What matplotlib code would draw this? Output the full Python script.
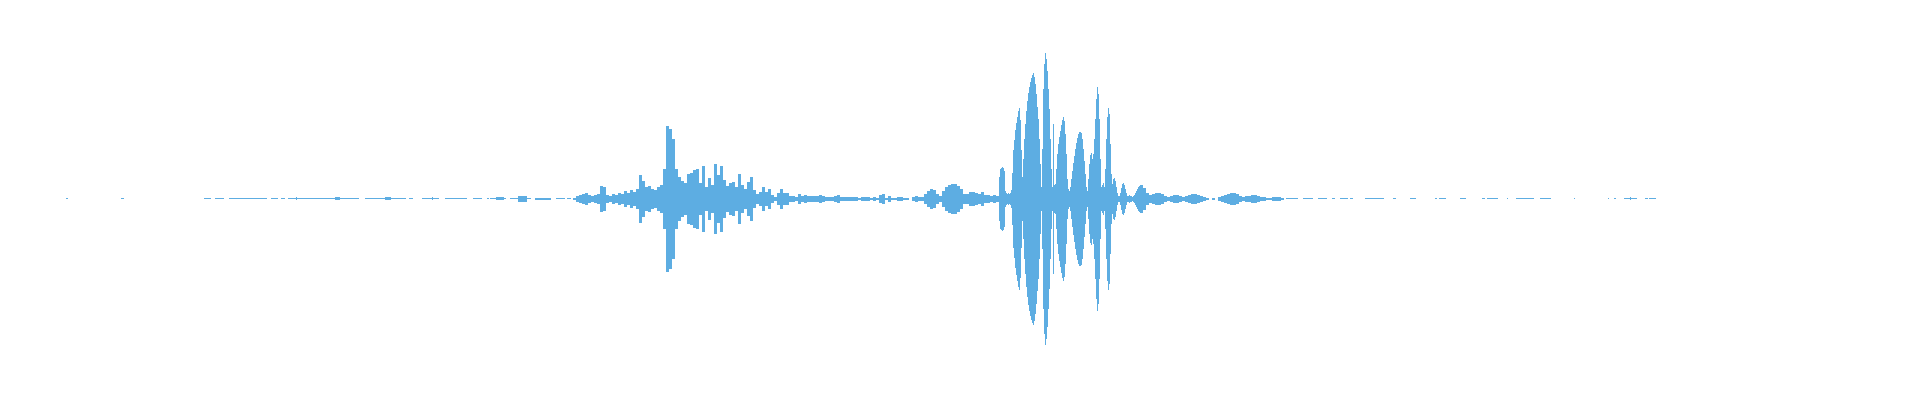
import numpy as np
import matplotlib
matplotlib.use("Agg")
import matplotlib.pyplot as plt

# waveform peak envelope, in pixels of amplitude around the centre line
# first speech part, one value per 3 columns starting at column 570
env_a_start = 570
env_a = [
    0, 1, 3, 4, 5, 6, 4, 3, 4, 5,
    13, 12, 4, 3, 5, 4, 6, 5, 8, 6,
    9, 7, 10, 24, 18, 12, 13, 10, 9, 12,
    14, 30, 73, 70, 60, 30, 22, 18, 16, 25,
    26, 29, 30, 16, 33, 12, 21, 14, 35, 24,
    33, 19, 13, 16, 17, 12, 25, 14, 10, 17,
    22, 9, 5, 7, 12, 7, 10, 4, 2, 6,
    10, 6, 6, 3, 3, 2, 5, 3, 4, 3,
    3, 3, 3, 4, 3, 2, 2, 2, 3, 4,
    2, 2, 2, 2, 2, 2, 1, 2, 2, 2,
    1, 2, 1, 4, 5, 1, 3, 1, 1, 2,
    2, 1, 1, 0, 2, 3, 2, 2, 5, 8,
    10, 9, 5, 3, 8, 12, 14, 15, 15, 13,
    10, 5, 5, 7, 7, 6, 5, 7, 4, 4,
    3, 4, 3,
]

# loud burst, one value per column starting at column 999
env_b_start = 999
env_b = [
    22, 30, 31, 32, 31, 28, 8, 6, 5, 6,
    5, 6, 9, 26, 49, 59, 69, 76, 82, 88,
    91, 79, 49, 22, 40, 60, 75, 88, 98, 106,
    112, 117, 121, 124, 126, 122, 115, 105, 92, 80,
    60, 35, 12, 50, 110, 135, 146, 140, 128, 110,
    90, 60, 30, 12, 75, 14, 15, 30, 45, 55,
    62, 68, 74, 79, 82, 78, 65, 45, 20, 10,
    8, 12, 20, 28, 36, 43, 50, 56, 61, 65,
    67, 67, 66, 60, 50, 38, 25, 12, 8, 20,
    35, 44, 46, 40, 45, 60, 80, 100, 112, 105,
    80, 40, 12, 14, 16, 12, 30, 60, 82, 91,
    85, 55, 25, 15, 20, 21, 18, 12, 6, 3,
    3, 6, 11, 15, 16, 14, 10, 6, 3, 3,
    4, 3, 3, 2, 3, 4, 6, 8, 10, 12,
    13,
]

# decay after the burst, one value per 3 columns starting at column 1140
env_c_start = 1140
env_c = [
    14, 11, 6, 4, 5, 6, 6, 5, 3, 2,
    3, 4, 4, 3, 2, 3, 4, 5, 5, 4,
    3, 2, 1, 0, 1, 0, 2, 3, 4, 5,
    6, 6, 5, 3, 2, 3, 3, 4, 4, 3,
    2, 2, 1, 1, 2, 2, 2, 1,
]

# near-silent stretches drawn as thin dashes: start column, end column, amplitude
quiet_start = [66, 121, 204, 215, 229, 271, 281, 288, 296, 335, 365, 385, 409, 422, 432,
               445, 473, 487, 490, 496, 510, 518, 535, 556, 567,
               1286, 1303, 1318, 1332, 1340, 1350, 1365, 1393, 1410, 1435, 1439, 1460,
               1482, 1487, 1507, 1516, 1540, 1574, 1608, 1614, 1624, 1630, 1645, 1649]
quiet_end = [68, 124, 211, 224, 267, 278, 285, 359, 297, 340, 406, 391, 413, 439, 433,
             467, 482, 489, 506, 504, 531, 527, 551, 565, 571,
             1298, 1313, 1327, 1335, 1348, 1353, 1384, 1396, 1416, 1437, 1446, 1466,
             1485, 1498, 1508, 1534, 1551, 1575, 1609, 1616, 1637, 1631, 1648, 1656]
quiet_amp = [0.5, 0.5, 0.5, 0.5, 0.5, 0.5, 0.5, 0.5, 1.5, 1.5, 0.5, 1.5, 0.5, 0.5, 1.5,
             0.5, 0.5, 0.5, 0.5, 1.5, 0.5, 3, 1, 0.5, 0.5,
             0.5, 0.5, 0.5, 0.5, 0.5, 0.5, 0.5, 0.5, 0.5, 0.5, 0.5, 0.5,
             0.5, 0.5, 0.5, 0.5, 0.5, 0.5, 0.5, 0.5, 0.5, 1.5, 0.5, 0.5]

wave_color = "#5dade2"


def draw_env(ax, start, step, env):
    env = np.array(env, dtype=float)
    x = start + step * np.arange(len(env))
    keep = env > 0
    ax.bar(x[keep], 2 * env[keep], bottom=-env[keep], width=step, align="edge",
           color=wave_color, linewidth=0)


fig = plt.figure(figsize=(19.2, 4), dpi=100)
ax = fig.add_axes([0, 0, 1, 1])
ax.set_axis_off()

qs = np.array(quiet_start, dtype=float)
qe = np.array(quiet_end, dtype=float)
qa = np.array(quiet_amp, dtype=float)
ax.bar(qs, 2 * qa, bottom=-qa, width=qe - qs, align="edge", color=wave_color, linewidth=0)

draw_env(ax, env_a_start, 3, env_a)
draw_env(ax, env_b_start, 1, env_b)
draw_env(ax, env_c_start, 3, env_c)

ax.set_xlim(0, 1920)
ax.set_ylim(-201, 199)

fig.savefig("out.png", dpi=100, facecolor="white")
